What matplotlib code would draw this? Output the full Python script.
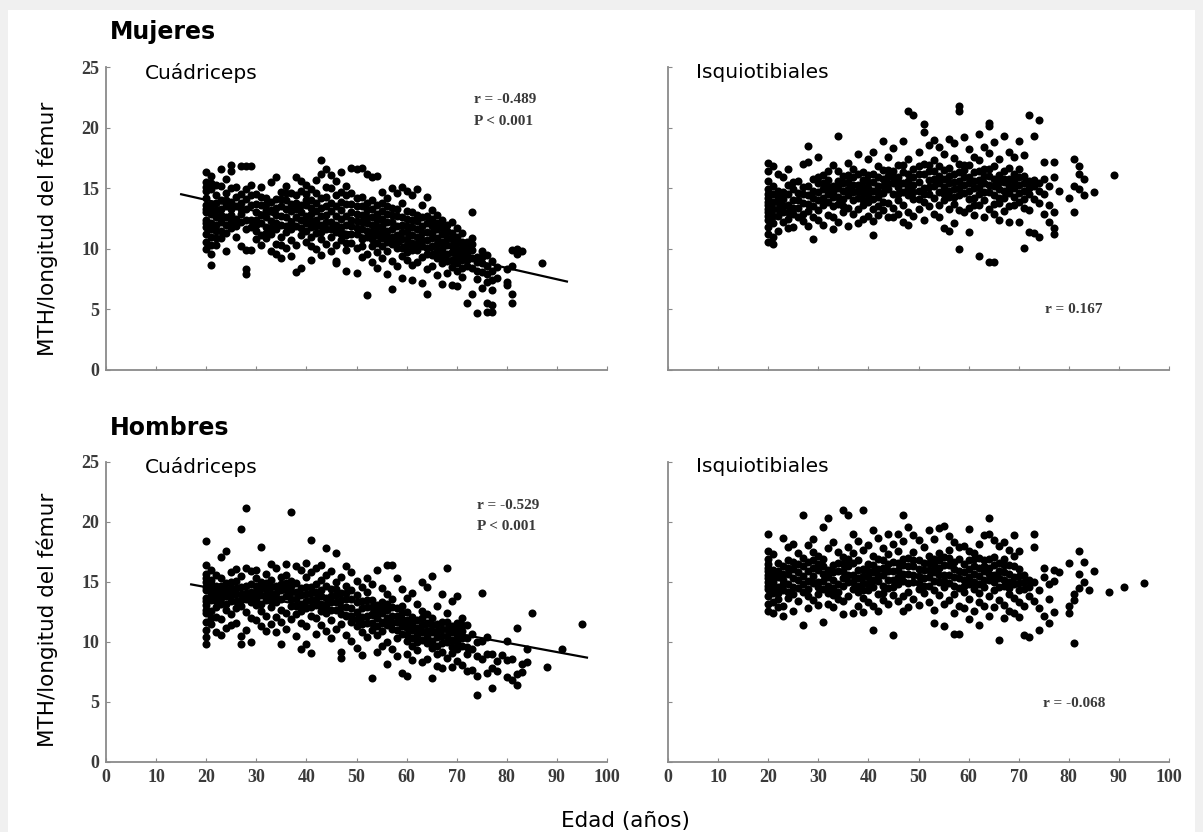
import matplotlib
matplotlib.use("Agg")
import matplotlib.pyplot as plt
from matplotlib.patches import Rectangle

# ---- Mujeres, cuadriceps: edades y valores MTH/longitud del femur por edad ----
muj_cuad_edad = list(range(20, 79)) + [80, 81, 82, 83, 87]
muj_cuad_mth = [
    [16.3, 15.5, 15.1, 14.8, 14.2, 13.6, 13.3, 13.0, 12.4, 12.1, 11.8, 11.2, 10.6, 10.0],
    [16.0, 15.4, 14.9, 13.7, 13.3, 12.9, 12.1, 11.6, 11.0, 10.3, 9.6, 8.7],
    [15.3, 14.4, 13.8, 13.2, 12.6, 12.0, 11.5, 10.9, 10.3],
    [16.6, 15.2, 14.0, 13.3, 12.8, 12.2, 11.5, 10.9],
    [15.8, 14.6, 14.0, 13.5, 12.6, 12.0, 11.3, 9.8],
    [16.9, 16.4, 15.0, 13.9, 13.3, 12.8, 12.2, 11.7],
    [15.1, 14.3, 13.5, 12.5, 11.9, 11.0],
    [16.8, 14.5, 13.8, 13.3, 12.9, 12.2, 10.2],
    [16.8, 14.9, 14.1, 13.3, 12.4, 11.6, 9.9, 8.3, 7.9],
    [16.8, 15.3, 14.4, 13.6, 12.4, 11.8, 9.9],
    [14.5, 13.7, 13.0, 12.4, 12.0, 11.5, 10.8],
    [15.1, 14.3, 13.6, 12.8, 12.1, 11.1, 10.3],
    [14.2, 13.7, 13.2, 12.6, 11.8, 11.3, 10.9],
    [15.5, 13.9, 13.2, 12.3, 11.7, 11.2, 9.8],
    [15.9, 14.1, 13.4, 12.8, 12.1, 11.6, 10.4, 9.6],
    [14.7, 14.1, 13.5, 12.7, 12.0, 11.0, 10.3, 9.2],
    [15.2, 14.6, 14.0, 13.3, 12.6, 11.9, 11.4, 10.1],
    [14.6, 13.7, 13.1, 12.2, 11.6, 10.7, 9.4],
    [15.9, 14.4, 13.8, 13.3, 12.6, 11.9, 10.3, 8.1],
    [15.6, 14.8, 13.6, 13.0, 12.4, 11.7, 11.1, 8.4],
    [15.3, 14.5, 14.0, 13.6, 12.7, 12.1, 11.5, 10.6],
    [14.9, 14.0, 13.4, 12.9, 12.3, 11.8, 11.0, 10.2, 9.1],
    [15.7, 14.6, 13.8, 13.1, 12.4, 11.9, 11.3, 10.0],
    [17.3, 16.2, 14.2, 13.4, 12.7, 12.0, 11.4, 10.8, 9.5],
    [16.6, 15.1, 14.3, 13.5, 12.8, 12.2, 11.6, 10.4],
    [16.1, 15.0, 13.8, 13.1, 12.2, 11.6, 11.0, 9.8],
    [15.6, 14.4, 13.5, 12.7, 12.0, 11.4, 10.3, 9.0, 8.8],
    [16.3, 14.7, 13.9, 13.2, 12.5, 11.8, 11.2, 10.7],
    [15.2, 14.4, 13.7, 12.7, 12.0, 11.1, 10.5, 9.9, 8.2],
    [16.7, 14.6, 13.7, 13.0, 12.4, 11.9, 11.2, 10.5],
    [16.6, 14.2, 13.5, 12.9, 12.3, 11.7, 11.2, 10.1, 8.0],
    [16.7, 14.3, 13.5, 12.8, 12.2, 11.6, 10.8, 10.2, 9.3],
    [16.2, 13.8, 13.2, 12.6, 12.1, 11.5, 11.0, 9.6, 6.2],
    [15.9, 14.0, 13.3, 12.6, 12.0, 11.4, 10.8, 10.2, 8.9],
    [16.0, 13.6, 12.9, 12.4, 11.8, 11.2, 10.5, 9.7, 8.4],
    [14.7, 13.8, 13.1, 12.5, 11.9, 11.4, 10.9, 10.2, 9.2],
    [14.2, 13.5, 12.9, 12.2, 11.5, 11.0, 10.6, 9.8, 7.9],
    [15.0, 13.4, 12.8, 12.2, 11.6, 11.0, 10.4, 9.0, 6.7],
    [14.6, 13.3, 12.7, 11.9, 11.1, 10.6, 10.1, 8.6],
    [15.1, 13.8, 12.6, 12.0, 11.4, 10.8, 10.1, 9.4, 7.6],
    [14.8, 13.1, 12.5, 11.9, 11.4, 10.8, 10.3, 9.7, 9.1],
    [14.4, 13.0, 12.4, 11.8, 11.1, 10.5, 9.9, 8.7, 7.4],
    [14.9, 12.8, 12.3, 11.6, 11.0, 10.4, 9.9, 8.9],
    [13.6, 12.6, 11.9, 11.3, 10.7, 10.2, 9.3, 7.2],
    [14.3, 12.7, 12.1, 11.4, 10.7, 10.1, 9.6, 8.3, 6.3],
    [13.2, 12.5, 11.9, 11.3, 10.9, 10.2, 9.5, 8.6],
    [12.8, 12.1, 11.6, 10.9, 10.4, 9.8, 9.2, 7.8],
    [12.4, 11.8, 11.2, 10.6, 10.0, 9.4, 8.8, 7.1],
    [12.0, 11.5, 10.9, 10.3, 9.6, 9.0, 8.0],
    [12.2, 11.3, 10.8, 10.2, 9.7, 9.1, 8.5, 7.0],
    [11.7, 11.0, 10.5, 9.9, 9.4, 8.8, 8.2, 6.9],
    [11.3, 10.6, 10.1, 9.6, 9.1, 8.4, 7.7],
    [10.6, 10.1, 9.6, 9.1, 8.6, 5.5],
    [13.0, 10.9, 10.4, 9.9, 9.2, 8.4, 6.3],
    [9.3, 8.9, 8.2, 7.5, 4.7],
    [9.8, 9.3, 8.8, 8.1, 6.8],
    [9.5, 8.6, 7.9, 7.3, 4.8, 5.5],
    [9.0, 8.2, 7.4, 6.6, 4.8, 5.4],
    [8.5, 7.6],
    [8.3, 7.3, 7.0],
    [9.9, 8.6, 6.3, 5.5],
    [10.0, 9.6],
    [9.8],
    [8.8],
]

# ---- Mujeres, isquiotibiales ----
muj_isq_edad = list(range(20, 79)) + [80, 81, 82, 83, 85, 89]
muj_isq_mth = [
    [17.1, 16.4, 15.6, 14.9, 14.5, 14.2, 13.9, 13.6, 13.3, 13.0, 12.7, 12.4, 11.8, 11.2, 10.6],
    [16.8, 15.2, 14.5, 13.9, 13.3, 12.7, 12.1, 11.0, 10.4],
    [16.2, 14.8, 14.3, 13.9, 13.3, 12.7, 11.5],
    [15.9, 14.7, 14.1, 13.5, 13.0, 12.2],
    [16.6, 15.3, 14.5, 13.6, 13.0, 12.5, 11.7],
    [15.5, 14.9, 14.0, 13.4, 12.9, 11.8],
    [15.6, 14.6, 14.0, 13.4, 12.6],
    [17.0, 15.1, 14.5, 13.8, 12.9, 12.3],
    [18.5, 17.2, 15.2, 14.4, 13.7, 13.1, 11.9],
    [15.8, 14.8, 14.2, 13.5, 12.6, 10.8],
    [17.6, 15.9, 15.4, 14.7, 14.0, 13.2, 12.4],
    [16.1, 15.4, 14.9, 14.2, 13.6, 12.0],
    [16.4, 15.7, 15.1, 14.5, 13.9, 12.8],
    [16.9, 15.2, 14.7, 14.3, 13.5, 12.6, 11.6],
    [19.3, 16.4, 15.6, 15.0, 14.3, 13.7, 12.2],
    [16.0, 15.4, 14.8, 14.1, 13.5, 13.0],
    [17.1, 16.1, 15.5, 14.9, 14.4, 13.4, 11.9],
    [16.6, 15.9, 15.3, 14.7, 14.0, 12.9],
    [17.8, 16.2, 15.3, 14.8, 14.2, 13.3, 12.1],
    [16.3, 15.7, 15.1, 14.6, 14.0, 13.6, 12.5],
    [17.4, 16.1, 15.5, 15.0, 14.4, 13.9, 12.7],
    [18.0, 16.2, 15.5, 14.8, 14.1, 13.3, 12.3, 11.1],
    [16.8, 15.9, 15.2, 14.7, 14.3, 13.5, 12.8],
    [18.9, 16.5, 15.8, 15.2, 14.6, 13.9, 13.2],
    [17.6, 16.5, 16.0, 15.4, 14.9, 13.8, 12.6],
    [18.3, 16.4, 15.9, 15.4, 14.5, 13.4, 12.6],
    [16.9, 15.9, 15.5, 15.1, 14.5, 14.0, 12.9],
    [18.9, 16.9, 16.3, 15.4, 14.7, 13.6, 12.2],
    [21.4, 17.4, 16.2, 15.6, 15.0, 14.4, 13.0, 12.0],
    [21.0, 16.6, 15.9, 15.3, 14.7, 14.1, 12.7],
    [18.0, 16.8, 16.2, 15.5, 14.8, 14.1, 13.3],
    [20.3, 19.6, 17.0, 16.2, 15.0, 14.5, 13.9, 12.4],
    [18.6, 16.9, 16.4, 15.7, 15.1, 14.5, 13.5],
    [19.0, 17.3, 16.4, 15.8, 15.2, 14.2, 12.9],
    [18.4, 16.8, 16.0, 15.4, 14.7, 13.6, 12.6],
    [17.8, 16.5, 15.8, 15.1, 14.5, 14.0, 11.7],
    [19.1, 16.7, 16.0, 15.4, 14.8, 14.3, 13.3, 11.5],
    [18.7, 17.5, 16.2, 15.5, 14.9, 14.3, 13.7, 12.1],
    [21.8, 21.4, 17.0, 16.3, 15.6, 15.0, 14.4, 13.2, 10.0],
    [19.2, 16.9, 16.5, 15.9, 15.3, 14.6, 13.0],
    [18.2, 16.9, 15.9, 15.4, 14.8, 14.1, 13.4, 11.4],
    [17.6, 16.3, 15.6, 15.0, 14.2, 13.6, 12.8],
    [19.5, 17.3, 16.4, 15.7, 15.1, 14.5, 13.6, 9.4],
    [18.4, 16.6, 16.0, 15.4, 14.7, 14.0, 12.6],
    [20.4, 20.1, 17.9, 16.6, 16.0, 15.3, 14.7, 13.3, 8.9],
    [18.8, 16.8, 15.8, 15.2, 14.4, 13.7, 12.9, 8.9],
    [17.4, 16.1, 15.5, 14.9, 14.2, 13.8, 12.4],
    [19.3, 16.4, 15.8, 15.5, 14.8, 14.2, 13.1],
    [18.0, 16.7, 15.8, 15.2, 14.6, 13.5, 12.2],
    [17.6, 16.2, 15.6, 15.0, 14.3, 13.6],
    [18.9, 16.6, 15.9, 15.3, 14.6, 13.9, 12.2],
    [17.7, 16.0, 15.4, 14.8, 14.1, 13.4, 10.1],
    [21.0, 15.6, 15.0, 14.5, 13.2, 11.4],
    [19.3, 15.7, 15.2, 14.1, 11.3],
    [20.6, 15.4, 14.8, 13.8, 11.0],
    [17.2, 15.8, 14.5, 12.9],
    [15.2, 13.6, 12.2],
    [17.2, 15.9, 13.0, 11.7, 11.2],
    [14.8],
    [14.2],
    [17.4, 15.2, 13.0],
    [16.8, 16.2, 14.9],
    [15.8, 14.4],
    [14.7],
    [16.1],
]

# ---- Hombres, cuadriceps ----
hom_cuad_edad = list(range(20, 86)) + [88, 91, 95]
hom_cuad_mth = [
    [18.4, 16.4, 15.7, 15.3, 15.0, 14.6, 14.3, 13.7, 13.4, 13.1, 12.7, 12.4, 11.7, 11.0, 10.4, 9.8],
    [16.0, 15.2, 14.8, 14.4, 13.9, 13.5, 12.6, 12.0, 11.5],
    [15.6, 14.7, 14.3, 13.9, 13.4, 12.9, 12.1, 10.8],
    [17.1, 15.3, 14.7, 14.2, 13.7, 13.2, 11.9, 10.6],
    [17.6, 14.9, 14.3, 13.8, 13.2, 12.7, 11.2],
    [15.8, 15.0, 14.5, 13.9, 13.4, 12.3, 11.4],
    [16.1, 15.1, 14.5, 14.0, 13.4, 12.8, 11.6],
    [19.4, 15.5, 14.6, 14.0, 13.5, 13.0, 10.5, 9.8],
    [21.2, 16.2, 14.7, 14.1, 13.6, 12.5, 11.0],
    [15.9, 14.8, 14.2, 13.7, 13.3, 12.0, 10.0],
    [16.0, 15.3, 14.7, 14.2, 13.6, 13.1, 11.8],
    [17.9, 15.0, 14.5, 13.9, 13.2, 12.6, 11.3],
    [15.7, 14.9, 14.4, 13.9, 13.5, 12.2, 10.9],
    [16.5, 15.2, 14.6, 14.0, 13.4, 12.9, 11.5],
    [16.2, 14.7, 14.1, 13.7, 13.3, 12.1, 10.8],
    [15.4, 14.8, 14.3, 13.6, 12.7, 11.7, 9.8],
    [16.5, 15.6, 14.9, 14.4, 13.8, 12.4, 11.1],
    [20.8, 15.1, 14.7, 14.2, 13.6, 13.0, 11.9],
    [16.3, 14.9, 14.2, 13.6, 13.0, 12.3, 10.5],
    [16.0, 14.5, 13.9, 13.2, 12.6, 11.6, 9.4],
    [16.6, 15.4, 14.6, 14.0, 13.4, 12.8, 11.3, 9.8],
    [18.5, 15.8, 14.6, 14.1, 13.5, 12.9, 12.2, 9.1],
    [16.2, 14.8, 14.2, 13.6, 13.1, 12.0, 10.7],
    [16.4, 15.2, 14.3, 13.8, 13.2, 12.6, 11.4],
    [17.8, 15.6, 14.7, 13.7, 13.1, 12.4, 10.9],
    [15.9, 14.4, 13.8, 13.3, 12.7, 11.8, 10.3],
    [17.4, 15.0, 14.4, 13.9, 13.3, 12.7, 11.1],
    [15.4, 14.1, 13.5, 12.9, 12.3, 11.5, 8.7, 9.2],
    [16.3, 14.7, 14.1, 13.6, 12.9, 12.2, 10.6],
    [15.8, 14.3, 13.6, 12.8, 12.2, 11.7, 10.1],
    [15.1, 13.9, 13.3, 12.5, 11.9, 11.3, 9.5],
    [14.6, 13.4, 12.8, 12.1, 11.5, 10.8, 8.9],
    [15.3, 14.2, 13.5, 12.9, 12.2, 11.6, 10.4],
    [14.8, 13.5, 12.9, 12.3, 11.6, 11.0, 7.0],
    [16.0, 13.1, 12.6, 12.0, 11.3, 10.6, 9.2],
    [14.5, 13.3, 12.8, 12.4, 11.6, 10.9, 9.7],
    [16.4, 14.0, 13.2, 12.7, 12.0, 11.4, 10.0, 8.2],
    [16.4, 13.6, 12.9, 12.2, 11.6, 11.1, 9.4],
    [15.3, 12.8, 12.2, 11.7, 11.0, 10.3, 8.8],
    [14.4, 13.0, 12.4, 11.9, 11.3, 10.7, 7.4],
    [13.7, 12.5, 11.8, 11.2, 10.6, 10.1, 9.0, 7.2],
    [14.1, 12.1, 11.6, 11.0, 10.3, 9.7, 8.5],
    [13.2, 11.8, 11.2, 10.6, 10.0, 9.3],
    [15.0, 12.6, 12.0, 11.4, 10.8, 10.2, 8.3],
    [14.6, 12.3, 11.6, 10.9, 10.4, 9.9, 8.6],
    [15.5, 12.0, 11.4, 10.8, 10.1, 9.5, 7.0],
    [13.0, 11.5, 10.9, 10.4, 9.7, 9.0, 8.0],
    [14.0, 11.7, 11.1, 10.5, 9.9, 9.2, 7.8],
    [16.2, 12.4, 11.7, 11.1, 10.5, 10.0, 8.7],
    [13.4, 11.3, 10.8, 10.2, 9.6, 9.1, 7.9],
    [13.8, 11.6, 11.0, 10.6, 10.0, 9.4, 8.4],
    [12.0, 11.4, 10.9, 10.3, 9.7, 8.1],
    [11.4, 10.3, 9.6, 9.0, 7.6],
    [10.7, 9.4, 7.7],
    [10.0, 8.8, 7.2, 5.6],
    [14.1, 10.1, 8.6],
    [10.4, 9.0, 7.4],
    [9.0, 7.8, 6.2],
    [8.4, 7.6],
    [8.9],
    [10.1, 8.5, 7.1],
    [8.6, 6.8],
    [11.2, 7.3, 6.4],
    [8.2, 7.5],
    [9.4, 8.3],
    [12.4],
    [7.9],
    [9.4],
    [11.5],
]

# ---- Hombres, isquiotibiales ----
hom_isq_edad = list(range(20, 79)) + [80, 81, 82, 83, 84, 85, 88, 91, 95]
hom_isq_mth = [
    [19.0, 17.6, 16.9, 16.5, 16.2, 15.9, 15.6, 15.3, 15.0, 14.7, 14.4, 13.8, 13.2, 12.6],
    [17.3, 16.0, 15.5, 15.0, 14.6, 14.1, 13.3, 12.4],
    [16.6, 15.9, 15.4, 14.6, 14.1, 13.6, 12.9],
    [18.7, 16.3, 15.7, 15.2, 14.8, 14.3, 13.0, 12.2],
    [17.9, 16.8, 16.2, 15.7, 14.8, 14.2, 13.7],
    [18.2, 16.7, 16.1, 15.3, 14.6, 14.0, 12.6],
    [17.4, 16.5, 15.8, 15.2, 14.5, 13.4],
    [20.6, 17.0, 16.3, 15.5, 14.8, 14.2, 11.4],
    [18.1, 16.7, 15.9, 15.1, 14.4, 13.8, 12.8],
    [18.6, 17.5, 16.8, 16.2, 15.5, 14.9, 13.5],
    [17.2, 16.5, 16.0, 15.0, 14.6, 14.0, 13.1],
    [19.6, 16.9, 16.3, 15.7, 15.1, 14.4, 11.7],
    [20.3, 17.8, 16.0, 15.4, 14.7, 14.1, 13.2],
    [18.3, 16.4, 15.8, 15.2, 14.5, 13.9, 12.9],
    [17.5, 16.6, 15.9, 14.8, 14.2, 13.6],
    [21.0, 17.1, 16.5, 15.9, 15.3, 14.7, 13.4, 12.3],
    [20.6, 17.9, 16.9, 16.3, 15.6, 15.0, 13.8],
    [19.0, 17.4, 16.6, 15.6, 15.0, 14.4, 12.4],
    [18.4, 16.8, 16.0, 15.3, 14.7, 14.2, 13.0],
    [21.0, 17.7, 16.1, 15.5, 14.9, 14.3, 13.7, 12.5],
    [18.1, 16.5, 15.9, 15.4, 14.8, 14.3, 13.3],
    [19.3, 17.2, 16.4, 15.8, 15.2, 14.6, 13.0, 11.0],
    [18.7, 16.9, 16.1, 15.5, 15.1, 14.0, 12.6],
    [17.8, 16.8, 16.2, 15.6, 14.7, 14.1, 13.5],
    [19.0, 17.3, 16.5, 15.9, 15.2, 14.5, 13.2],
    [18.2, 16.7, 15.9, 15.2, 14.6, 13.9, 10.6],
    [19.0, 17.6, 16.6, 16.0, 15.4, 14.8, 13.4],
    [20.6, 18.4, 16.9, 16.4, 15.7, 15.1, 13.8, 12.6],
    [19.6, 17.0, 16.3, 15.7, 14.9, 14.2, 12.9],
    [18.9, 17.5, 16.8, 16.3, 15.6, 15.0, 13.6],
    [18.5, 16.8, 16.1, 15.5, 14.9, 14.4, 13.1],
    [17.9, 16.6, 16.0, 15.3, 14.7, 14.1],
    [19.3, 17.2, 16.6, 16.0, 15.4, 14.7, 13.3],
    [18.6, 16.9, 16.4, 15.8, 15.1, 14.3, 12.7, 11.6],
    [19.5, 17.4, 16.8, 16.2, 15.6, 15.0, 13.9],
    [19.7, 17.1, 16.4, 15.6, 15.1, 14.6, 13.2, 11.3],
    [18.8, 17.7, 17.0, 16.4, 15.6, 14.9, 13.5],
    [18.3, 16.7, 16.1, 15.4, 14.7, 14.0, 12.4, 10.7],
    [17.9, 16.9, 15.9, 15.3, 14.5, 13.0, 10.7],
    [18.0, 16.5, 15.8, 15.2, 14.7, 14.2, 12.8],
    [19.4, 17.6, 16.8, 16.1, 15.4, 14.8, 13.6, 11.9],
    [17.4, 16.9, 16.3, 15.7, 15.0, 14.4, 12.6],
    [18.2, 17.0, 16.2, 15.5, 14.8, 14.1, 13.3, 11.4],
    [18.9, 16.8, 16.3, 15.9, 15.2, 14.6, 13.0],
    [20.3, 19.0, 16.9, 16.2, 15.7, 15.2, 13.8, 12.2],
    [18.5, 17.1, 16.4, 15.6, 15.0, 14.3, 12.9],
    [18.0, 16.6, 15.9, 15.3, 14.6, 13.5, 10.2],
    [18.3, 16.9, 16.4, 15.8, 15.2, 14.7, 13.1, 12.0],
    [17.7, 16.4, 15.7, 15.0, 14.5, 14.0, 12.6],
    [18.9, 17.2, 16.3, 15.4, 14.8, 13.7, 12.4],
    [17.6, 16.1, 15.5, 14.9, 14.3, 13.3, 12.1],
    [15.6, 15.0, 14.4, 13.0, 10.6],
    [15.2, 14.6, 13.8, 10.4],
    [19.0, 17.9, 15.0, 13.4],
    [14.3, 12.8, 11.0],
    [16.2, 15.4, 12.2],
    [14.8, 13.6, 11.6],
    [16.0, 15.1, 12.5],
    [15.8],
    [16.6, 13.0, 12.4],
    [14.0, 13.5, 9.9],
    [17.6, 15.7, 14.5],
    [16.7, 15.0],
    [14.3],
    [15.9],
    [14.2],
    [14.6],
    [14.9],
]

# rectas de regresion (extremos)
muj_cuad_recta_x = [15, 92]
muj_cuad_recta_y = [14.5, 7.3]
hom_cuad_recta_x = [17, 96]
hom_cuad_recta_y = [14.8, 8.7]

gris = "#8a8a8a"
serif = ["Liberation Serif", "DejaVu Serif"]


def aplanar(edades, valores):
    assert len(edades) == len(valores)
    x, y = [], []
    for e, vals in zip(edades, valores):
        x += [e] * len(vals)
        y += vals
    return x, y


fig = plt.figure(figsize=(12.03, 8.32), dpi=100)
fig.patch.set_facecolor("#f0f0f0")
fondo = Rectangle((8 / 1203, 0), 1187 / 1203, 1 - 10 / 832,
                  transform=fig.transFigure, facecolor="white",
                  edgecolor="none", zorder=-10)
fig.patches.append(fondo)

W = 501 / 1203
paneles = [
    # (left, bottom, height, edades, valores, recta, texto r, texto P, pos texto, ylabels, xlabels)
    (106 / 1203, 1 - 370 / 832, 303 / 832, muj_cuad_edad, muj_cuad_mth,
     (muj_cuad_recta_x, muj_cuad_recta_y), "r = -0.489", "P < 0.001", (73.5, 22.3), True, False),
    (668 / 1203, 1 - 370 / 832, 303 / 832, muj_isq_edad, muj_isq_mth,
     None, "r = 0.167", None, (75.3, 5.0), False, False),
    (106 / 1203, 1 - 762 / 832, 300 / 832, hom_cuad_edad, hom_cuad_mth,
     (hom_cuad_recta_x, hom_cuad_recta_y), "r = -0.529", "P < 0.001", (74.1, 21.4), True, True),
    (668 / 1203, 1 - 762 / 832, 300 / 832, hom_isq_edad, hom_isq_mth,
     None, "r = -0.068", None, (74.9, 4.9), False, True),
]

for left, bottom, h, edades, valores, recta, txt_r, txt_p, pos, ylab, xlab in paneles:
    ax = fig.add_axes([left, bottom, W, h])
    ax.set_facecolor("none")
    x, y = aplanar(edades, valores)
    ax.plot(x, y, "o", color="black", ms=5.8, mew=0, zorder=3)
    if recta is not None:
        ax.plot(recta[0], recta[1], color="black", lw=1.6, zorder=4)
    ax.set_xlim(0, 100)
    ax.set_ylim(0, 25)
    ax.set_xticks(range(0, 101, 10))
    ax.set_yticks(range(0, 26, 5))
    for s in ["top", "right"]:
        ax.spines[s].set_visible(False)
    for s in ["left", "bottom"]:
        ax.spines[s].set_color(gris)
        ax.spines[s].set_linewidth(1.3)
    ax.tick_params(direction="in", length=3, width=0.8, color=gris, pad=5,
                   labelsize=13, labelcolor="#3a3a3a")
    if not ylab:
        ax.set_yticklabels([])
    if not xlab:
        ax.set_xticklabels([])
    for lbl in ax.get_xticklabels() + ax.get_yticklabels():
        lbl.set_fontfamily(serif)
        lbl.set_fontweight("bold")
    ax.text(pos[0], pos[1], txt_r, fontsize=11, family=serif, weight="bold",
            color="#3a3a3a", va="center")
    if txt_p:
        ax.text(pos[0], pos[1] - 1.8, txt_p, fontsize=11, family=serif,
                weight="bold", color="#3a3a3a", va="center")

# titulos de grupo y de musculo
fig.text(110 / 1203, 1 - 32 / 832, "Mujeres", fontsize=17, weight="bold", va="center")
fig.text(110 / 1203, 1 - 428 / 832, "Hombres", fontsize=17, weight="bold", va="center")
for ytit in [73, 467]:
    fig.text(145 / 1203, 1 - ytit / 832, "Cuádriceps", fontsize=14.5, va="center")
    fig.text(696 / 1203, 1 - ytit / 832, "Isquiotibiales", fontsize=14.5, va="center")

fig.text(47 / 1203, 1 - 229 / 832, "MTH/longitud del fémur", fontsize=15.5,
         rotation=90, ha="center", va="center")
fig.text(47 / 1203, 1 - 620 / 832, "MTH/longitud del fémur", fontsize=15.5,
         rotation=90, ha="center", va="center")
fig.text(625 / 1203, 1 - 821 / 832, "Edad (años)", fontsize=15.5, ha="center", va="center")

fig.savefig("out.png", dpi=100, facecolor=fig.get_facecolor())
